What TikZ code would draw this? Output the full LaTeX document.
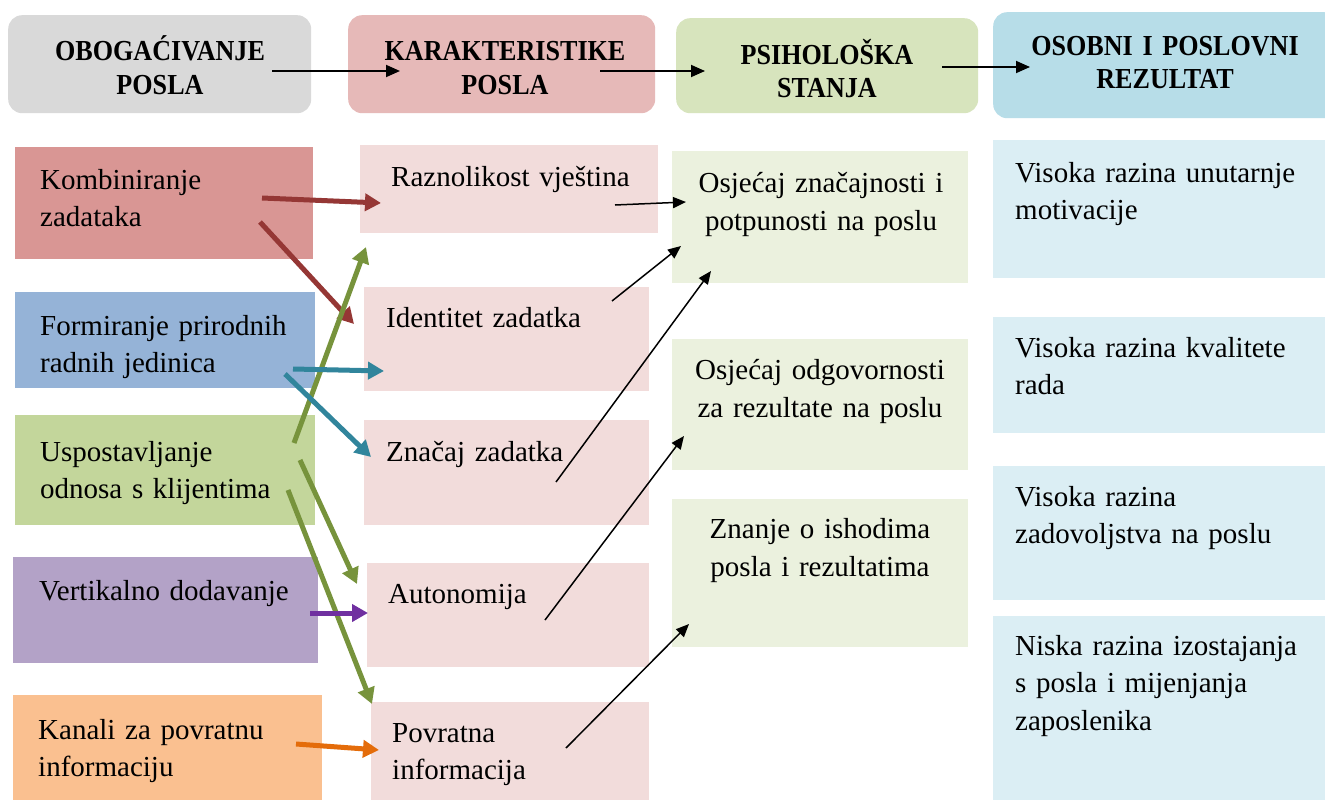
\documentclass[tikz,border=0pt]{standalone}
\usepackage{fontspec}
\setmainfont{Liberation Serif}
\newfontfamily\hdrfont[FakeStretch=0.9]{Liberation Serif}
\usetikzlibrary{arrows.meta}
\definecolor{hgray}{HTML}{D9D9D9}
\definecolor{hpink}{HTML}{E6B9B8}
\definecolor{hgreen}{HTML}{D7E4BD}
\definecolor{hblue}{HTML}{B7DDE8}
\definecolor{cred}{HTML}{D99694}
\definecolor{cblue}{HTML}{95B3D7}
\definecolor{cgreen}{HTML}{C3D69B}
\definecolor{cviolet}{HTML}{B3A2C7}
\definecolor{corange}{HTML}{FAC090}
\definecolor{mpink}{HTML}{F2DCDB}
\definecolor{lgreen}{HTML}{EBF1DE}
\definecolor{lblue}{HTML}{DBEEF4}
\definecolor{ared}{HTML}{953735}
\definecolor{ateal}{HTML}{31859C}
\definecolor{agreen}{HTML}{77933C}
\definecolor{aviolet}{HTML}{7030A0}
\definecolor{aorange}{HTML}{E46C0A}
\begin{document}
\begin{tikzpicture}[x=1pt,y=-1pt,
  hdrbox/.style={rounded corners=14pt, inner sep=0pt, anchor=north west},
  cbox/.style={inner sep=0pt, anchor=north west},
  hdrtxt/.style={anchor=base, inner sep=0pt, text width=330pt, align=center,
    font=\hdrfont\bfseries\fontsize{29}{33}\selectfont},
  btxt/.style={anchor=base west, inner sep=0pt, text width=320pt, align=left,
    font=\fontsize{29}{37.5}\selectfont},
  ctxt/.style={anchor=base, inner sep=0pt, text width=300pt, align=center,
    font=\fontsize{29}{38}\selectfont},
  tharrow/.style={line width=5pt, -{Triangle[length=16pt,width=17pt]}},
  blarrow/.style={line width=1.5pt, black, -{Triangle[length=13pt,width=11pt]}},
  hdarrow/.style={line width=1.8pt, black, -{Triangle[length=14pt,width=12pt]}}
]
\useasboundingbox (0,0) rectangle (1325,800);
\fill[white] (0,0) rectangle (1325,800);

% header row
\node[hdrbox, fill=hgray, minimum width=303pt, minimum height=98pt] (h1) at (8,15) {};
\node[hdrbox, fill=hpink, minimum width=307pt, minimum height=98pt] (h2) at (348,15) {};
\node[hdrbox, fill=hgreen, minimum width=302pt, minimum height=95pt] (h3) at (676,18) {};
\node[hdrbox, fill=hblue, minimum width=345pt, minimum height=106pt] (h4) at (993,12) {};
\node[hdrtxt] (h1t) at (160,61) {OBOGAĆIVANJE\\POSLA};
\node[hdrtxt] (h2t) at (505,61) {KARAKTERISTIKE\\POSLA};
\node[hdrtxt] (h3t) at (827,64) {PSIHOLOŠKA\\STANJA};
\node[hdrtxt] (h4t) at (1165,56) {OSOBNI I POSLOVNI\\REZULTAT};

% left column
\node[cbox, fill=cred, minimum width=298pt, minimum height=112pt] (komb) at (15,147) {};
\node[cbox, fill=cblue, minimum width=300pt, minimum height=96pt] (form) at (15,292) {};
\node[cbox, fill=cgreen, minimum width=300pt, minimum height=110pt] (uspo) at (15,415) {};
\node[cbox, fill=cviolet, minimum width=305pt, minimum height=106pt] (vert) at (13,557) {};
\node[cbox, fill=corange, minimum width=309pt, minimum height=105pt] (kana) at (13,695) {};
\node[btxt] (kombt) at (40,189) {Kombiniranje\\zadataka};
\node[btxt] (formt) at (40,335) {Formiranje prirodnih\\radnih jedinica};
\node[btxt] (uspot) at (40,461) {Uspostavljanje\\odnosa s klijentima};
\node[btxt] (vertt) at (39,600) {Vertikalno dodavanje};
\node[btxt] (kanat) at (38,739) {Kanali za povratnu\\informaciju};

% middle column
\node[cbox, fill=mpink, minimum width=298pt, minimum height=88pt] (razn) at (360,145) {};
\node[cbox, fill=mpink, minimum width=285pt, minimum height=104pt] (iden) at (364,287) {};
\node[cbox, fill=mpink, minimum width=285pt, minimum height=105pt] (znac) at (364,420) {};
\node[cbox, fill=mpink, minimum width=282pt, minimum height=104pt] (auto) at (367,563) {};
\node[cbox, fill=mpink, minimum width=278pt, minimum height=98pt] (povr) at (371,702) {};
\node[btxt] (raznt) at (391,186) {Raznolikost vještina};
\node[btxt] (ident) at (386,327) {Identitet zadatka};
\node[btxt] (znact) at (386,461) {Značaj zadatka};
\node[btxt] (autot) at (388,603) {Autonomija};
\node[btxt] (povrt) at (392,742) {Povratna\\informacija};

% third column
\node[cbox, fill=lgreen, minimum width=296pt, minimum height=132pt] (osz) at (672,151) {};
\node[cbox, fill=lgreen, minimum width=296pt, minimum height=131pt] (oso) at (672,339) {};
\node[cbox, fill=lgreen, minimum width=296pt, minimum height=148pt] (zna) at (672,499) {};
\node[ctxt] (oszt) at (821,192) {Osjećaj značajnosti i\\potpunosti na poslu};
\node[ctxt] (osot) at (820,379) {Osjećaj odgovornosti\\za rezultate na poslu};
\node[ctxt] (znat) at (820,538) {Znanje o ishodima\\posla i rezultatima};

% fourth column
\node[cbox, fill=lblue, minimum width=332pt, minimum height=138pt] (vis1) at (993,140) {};
\node[cbox, fill=lblue, minimum width=332pt, minimum height=116pt] (vis2) at (993,317) {};
\node[cbox, fill=lblue, minimum width=332pt, minimum height=134pt] (vis3) at (993,466) {};
\node[cbox, fill=lblue, minimum width=332pt, minimum height=184pt] (nis) at (993,616) {};
\node[btxt] (vis1t) at (1015,182) {Visoka razina unutarnje\\motivacije};
\node[btxt] (vis2t) at (1015,357) {Visoka razina kvalitete\\rada};
\node[btxt] (vis3t) at (1015,506) {Visoka razina\\zadovoljstva na poslu};
\node[btxt] (nist) at (1015,655) {Niska razina izostajanja\\s posla i mijenjanja\\zaposlenika};

% connector end points
\coordinate (h1s) at (272,71); \coordinate (h1e) at (400,71);
\coordinate (h2s) at (600,71); \coordinate (h2e) at (705,71);
\coordinate (h3s) at (942,67); \coordinate (h3e) at (1030,67);

\coordinate (r1s) at (262,198); \coordinate (r1e) at (381,203);
\coordinate (r2s) at (260,222); \coordinate (r2e) at (354,324);
\coordinate (t1s) at (293,369); \coordinate (t1e) at (384,371);
\coordinate (t2s) at (285,374); \coordinate (t2e) at (371,457);
\coordinate (g1s) at (294,443); \coordinate (g1e) at (366,247);
\coordinate (g2s) at (300,460); \coordinate (g2e) at (357,584);
\coordinate (g3s) at (288,490); \coordinate (g3e) at (372,704);
\coordinate (p1s) at (310,613); \coordinate (p1e) at (368,613);
\coordinate (o1s) at (296,744); \coordinate (o1e) at (379,750);

\coordinate (b1s) at (615,205); \coordinate (b1e) at (686,202);
\coordinate (b2s) at (612,301); \coordinate (b2e) at (681,246);
\coordinate (b3s) at (556,482); \coordinate (b3e) at (711,271);
\coordinate (b4s) at (545,620); \coordinate (b4e) at (684,436);
\coordinate (b5s) at (566,748); \coordinate (b5e) at (689,624);

% header arrows
\draw[hdarrow] (h1s) -- (h1e);
\draw[hdarrow] (h2s) -- (h2e);
\draw[hdarrow] (h3s) -- (h3e);

% coloured arrows
\draw[tharrow, ared] (r1s) -- (r1e);
\draw[tharrow, ared] (r2s) -- (r2e);
\draw[tharrow, agreen] (g1s) -- (g1e);
\draw[tharrow, ateal] (t1s) -- (t1e);
\draw[tharrow, ateal] (t2s) -- (t2e);
\draw[tharrow, agreen] (g2s) -- (g2e);
\draw[tharrow, agreen] (g3s) -- (g3e);
\draw[tharrow, aviolet] (p1s) -- (p1e);
\draw[tharrow, aorange] (o1s) -- (o1e);

% black arrows
\draw[blarrow] (b1s) -- (b1e);
\draw[blarrow] (b2s) -- (b2e);
\draw[blarrow] (b3s) -- (b3e);
\draw[blarrow] (b4s) -- (b4e);
\draw[blarrow] (b5s) -- (b5e);
\end{tikzpicture}
\end{document}
